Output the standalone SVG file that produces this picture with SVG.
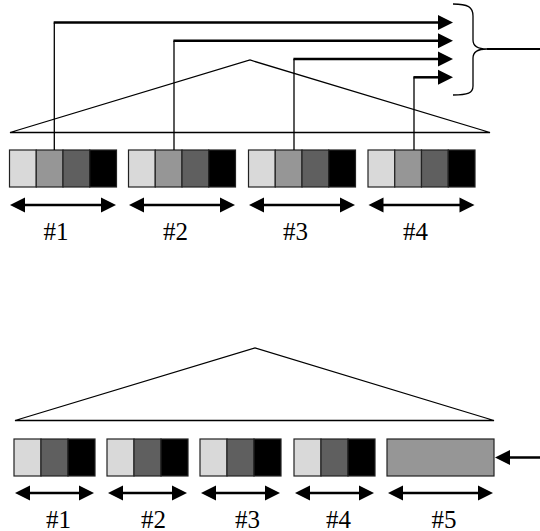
<svg xmlns="http://www.w3.org/2000/svg" width="540" height="531" viewBox="0 0 540 531">
<style>
.tri{fill:none;stroke:#000;stroke-width:1.3}
.cell{stroke:#222;stroke-width:1.2}
.c1{fill:#d9d9d9}.c2{fill:#969696}.c3{fill:#5f5f5f}.c4{fill:#000}
.dbl{stroke:#000;stroke-width:2.5;fill:none;marker-start:url(#ah);marker-end:url(#ah)}
.one{stroke:#000;stroke-width:2.5;fill:none;marker-end:url(#ah)}
.vert{stroke:#000;stroke-width:1.3;fill:none}
text{font-family:'Liberation Serif','Times New Roman',serif;font-size:25px;fill:#000;text-anchor:middle}
</style>
<defs>
<marker id="ah" markerUnits="userSpaceOnUse" markerWidth="16" markerHeight="16" viewBox="0 0 15 16" refX="5" refY="8" orient="auto-start-reverse">
<path d="M0,0.5 L15,8 L0,15.5 z" fill="#000"/>
</marker>
</defs>
<rect width="540" height="531" fill="#fff"/>

<g id="top-triangle"><path class="tri" d="M10,132.5 L250,60 L490,132.5 Z"/></g>

<g id="top-block-1">
<rect class="cell c1" x="9.5" y="150" width="26.75" height="37"/>
<rect class="cell c2" x="36.25" y="150" width="26.75" height="37"/>
<rect class="cell c3" x="63" y="150" width="26.75" height="37"/>
<rect class="cell c4" x="89.75" y="150" width="26.75" height="37"/>
<path class="dbl" d="M20,205 H106"/>
<text x="56" y="240" font-family="Liberation Serif, serif">#1</text>
</g>
<g id="top-block-2">
<rect class="cell c1" x="128.5" y="150" width="26.75" height="37"/>
<rect class="cell c2" x="155.25" y="150" width="26.75" height="37"/>
<rect class="cell c3" x="182" y="150" width="26.75" height="37"/>
<rect class="cell c4" x="208.75" y="150" width="26.75" height="37"/>
<path class="dbl" d="M139,205 H225"/>
<text x="175.5" y="240" font-family="Liberation Serif, serif">#2</text>
</g>
<g id="top-block-3">
<rect class="cell c1" x="248.5" y="150" width="26.75" height="37"/>
<rect class="cell c2" x="275.25" y="150" width="26.75" height="37"/>
<rect class="cell c3" x="302" y="150" width="26.75" height="37"/>
<rect class="cell c4" x="328.75" y="150" width="26.75" height="37"/>
<path class="dbl" d="M259,205 H345"/>
<text x="295.5" y="240" font-family="Liberation Serif, serif">#3</text>
</g>
<g id="top-block-4">
<rect class="cell c1" x="368" y="150" width="26.75" height="37"/>
<rect class="cell c2" x="394.75" y="150" width="26.75" height="37"/>
<rect class="cell c3" x="421.5" y="150" width="26.75" height="37"/>
<rect class="cell c4" x="448.25" y="150" width="26.75" height="37"/>
<path class="dbl" d="M378.5,205 H464.5"/>
<text x="415.5" y="240" font-family="Liberation Serif, serif">#4</text>
</g>

<g id="brace">
<path class="tri" stroke-width="1.5" d="M453,4 C468,4 473,7 473,16 L473,40 C473,46 477,49 487,49 C477,49 473,52 473,58 L473,86 C473,93 468,95 453,95"/>
<path d="M487,49 H540" stroke="#000" stroke-width="2"/>
</g>

<g id="connectors">
<path class="vert" d="M54.3,150 V22.5"/>
<path class="one" d="M53.7,22.5 H443"/>
<path class="vert" d="M174,150 V40.8"/>
<path class="one" d="M173.4,40.8 H443"/>
<path class="vert" d="M294,150 V59"/>
<path class="one" d="M293.4,59 H443"/>
<path class="vert" d="M414,150 V77.3"/>
<path class="one" d="M413.4,77.3 H443"/>
<path class="one" d="M540,457.5 H505"/>
</g>

<g id="bottom-triangle"><path class="tri" d="M15,420.5 L255,348 L494,420.5 Z"/></g>

<g id="bottom-block-1">
<rect class="cell c1" x="14" y="439" width="27" height="37"/>
<rect class="cell c3" x="41" y="439" width="27" height="37"/>
<rect class="cell c4" x="68" y="439" width="27" height="37"/>
<path class="dbl" d="M25,493 H84"/>
<text x="58.5" y="528" font-family="Liberation Serif, serif">#1</text>
</g>
<g id="bottom-block-2">
<rect class="cell c1" x="107" y="439" width="27" height="37"/>
<rect class="cell c3" x="134" y="439" width="27" height="37"/>
<rect class="cell c4" x="161" y="439" width="27" height="37"/>
<path class="dbl" d="M118,493 H177"/>
<text x="153.5" y="528" font-family="Liberation Serif, serif">#2</text>
</g>
<g id="bottom-block-3">
<rect class="cell c1" x="200" y="439" width="27" height="37"/>
<rect class="cell c3" x="227" y="439" width="27" height="37"/>
<rect class="cell c4" x="254" y="439" width="27" height="37"/>
<path class="dbl" d="M211,493 H270"/>
<text x="247.5" y="528" font-family="Liberation Serif, serif">#3</text>
</g>
<g id="bottom-block-4">
<rect class="cell c1" x="294" y="439" width="27" height="37"/>
<rect class="cell c3" x="321" y="439" width="27" height="37"/>
<rect class="cell c4" x="348" y="439" width="27" height="37"/>
<path class="dbl" d="M305,493 H364"/>
<text x="338.5" y="528" font-family="Liberation Serif, serif">#4</text>
</g>
<g id="bottom-block-5">
<rect class="cell c2" x="387" y="439" width="107" height="37"/>
<path class="dbl" d="M398,493 H483"/>
<text x="444" y="528" font-family="Liberation Serif, serif">#5</text>
</g>
</svg>
